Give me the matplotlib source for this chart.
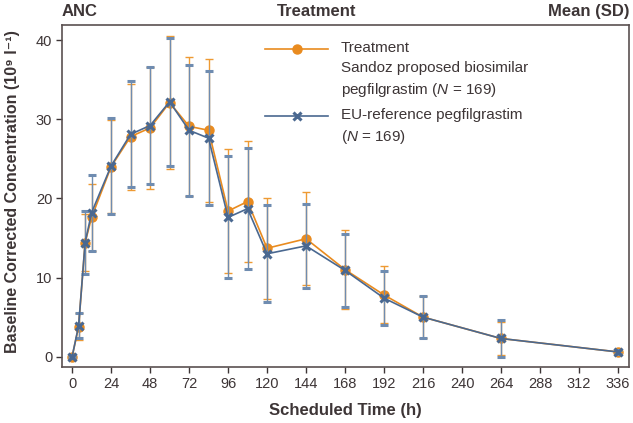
import numpy as np
import matplotlib
matplotlib.use("Agg")
import matplotlib.pyplot as plt
from matplotlib.font_manager import FontProperties
from matplotlib.legend_handler import HandlerLine2D
from matplotlib.lines import Line2D

# ANC, baseline corrected, mean (SD)
hours = [0, 4, 8, 12, 24, 36, 48, 60, 72, 84, 96, 108, 120, 144, 168, 192, 216, 264, 336]
sdz_mean = [0, 3.8, 14.4, 17.6, 24.0, 27.8, 28.9, 32.1, 29.1, 28.6, 18.4, 19.6, 13.7, 14.9, 11.0, 7.8, 5.0, 2.3, 0.6]
sdz_sd = [0.2, 1.7, 3.6, 4.2, 5.9, 6.7, 7.7, 8.4, 8.8, 9.0, 7.8, 7.7, 6.4, 5.9, 5.0, 3.6, 2.7, 2.1, 0.4]
eu_mean = [0, 3.9, 14.4, 18.2, 24.1, 28.1, 29.2, 32.2, 28.6, 27.6, 17.6, 18.7, 13.0, 14.0, 10.9, 7.4, 5.0, 2.3, 0.6]
eu_sd = [0.2, 1.6, 4.0, 4.8, 6.1, 6.7, 7.4, 8.1, 8.3, 8.5, 7.7, 7.6, 6.1, 5.3, 4.6, 3.4, 2.7, 2.3, 0.3]

sdz_label = "Treatment\nSandoz proposed biosimilar\npegfilgrastim ($N$ = 169)"
eu_label = "EU-reference pegfilgrastim\n($N$ = 169)"
xticks = list(range(0, 337, 24))
yticks = [0, 10, 20, 30, 40]

ORANGE = "#E98B1F"
ORANGE_ERR = "#EE9A33"
BLUE = "#4A6890"
BLUE_ERR = "#6F8CB0"
DARK = "#3d3536"

plt.rcParams["font.family"] = ["Liberation Sans", "DejaVu Sans"]
plt.rcParams["mathtext.fontset"] = "custom"
plt.rcParams["mathtext.rm"] = "Liberation Sans"
plt.rcParams["mathtext.it"] = "Liberation Sans:italic"
plt.rcParams["text.color"] = DARK


class TopLineHandler(HandlerLine2D):
    # move the handle up to the first line of a multi-line label
    def __init__(self, shift, **kw):
        super().__init__(**kw)
        self.shift = shift

    def create_artists(self, legend, orig_handle, xdescent, ydescent,
                       width, height, fontsize, trans):
        arts = super().create_artists(legend, orig_handle, xdescent, ydescent,
                                      width, height, fontsize, trans)
        for a in arts:
            a.set_ydata(np.asarray(a.get_ydata(), float) + self.shift)
        return arts


fig = plt.figure(figsize=(6.33, 4.23), dpi=100)
ax = fig.add_axes([0.098, 0.1324, 0.8957, 0.8085])

err_kw = dict(elinewidth=1.0, capsize=3, capthick=1.0)
ax.errorbar(hours, sdz_mean, yerr=sdz_sd, color=ORANGE, ecolor=ORANGE_ERR, lw=1.2,
            marker="o", ms=6.5, mec=ORANGE, mfc=ORANGE, zorder=3, **err_kw)
ax.errorbar(hours, eu_mean, yerr=eu_sd, color=BLUE, ecolor=BLUE_ERR, lw=1.2,
            marker="x", ms=5.5, mew=2.2, mec=BLUE, zorder=4, **err_kw)

ax.set_xlim(-6.2, 342.8)
ax.set_ylim(-1.3, 41.9)
ax.set_xticks(xticks)
ax.set_yticks(yticks)
ax.tick_params(direction="out", length=4, width=1.0, color=DARK, labelcolor=DARK,
               labelsize=10.5, pad=3)
for s in ax.spines.values():
    s.set_color("#5a5050")
    s.set_linewidth(1.2)

ax.set_xlabel("Scheduled Time (h)", fontsize=12, fontweight="bold", color=DARK)
ax.xaxis.set_label_coords(0.5, -0.105)
ax.set_ylabel("Baseline Corrected Concentration (10\u2079 l\u207b\u00b9)", fontsize=11.5,
              fontweight="bold", color=DARK)
ax.yaxis.set_label_coords(-0.074, 0.513)

fig.text(0.098, 0.972, "ANC", ha="left", va="center", fontsize=12, fontweight="bold")
fig.text(0.5, 0.972, "Treatment", ha="center", va="center", fontsize=12, fontweight="bold")
fig.text(0.9937, 0.972, "Mean (SD)", ha="right", va="center", fontsize=12, fontweight="bold")

# legend: text lines about 20 px apart, handle on the first line
leg_fs = 11
r = fig.canvas.get_renderer()
_, lp_h, lp_d = r.get_text_width_height_descent(
    "lp", FontProperties(family="Liberation Sans", size=leg_fs), ismath=False)
ls = (19.4 - lp_d) / (lp_h - lp_d)
gap_pt = 21.0 * 72.0 / fig.dpi

h_sdz = Line2D([], [], color=ORANGE, lw=1.2, marker="o", ms=6.5, mfc=ORANGE, mec=ORANGE)
h_eu = Line2D([], [], color=BLUE, lw=1.2, marker="x", ms=5.5, mew=2.2, mec=BLUE)
leg = ax.legend([h_sdz, h_eu], [sdz_label, eu_label], loc="upper left",
                bbox_to_anchor=(0.3585, 0.952), frameon=False, fontsize=leg_fs,
                handlelength=4.1, handletextpad=0.85, labelspacing=0.55,
                borderaxespad=0, borderpad=0,
                handler_map={h_sdz: TopLineHandler(gap_pt),
                             h_eu: TopLineHandler(gap_pt / 2)})
for t in leg.get_texts():
    t.set_linespacing(ls)
    t.set_color(DARK)

fig.savefig("out.png", dpi=100)
